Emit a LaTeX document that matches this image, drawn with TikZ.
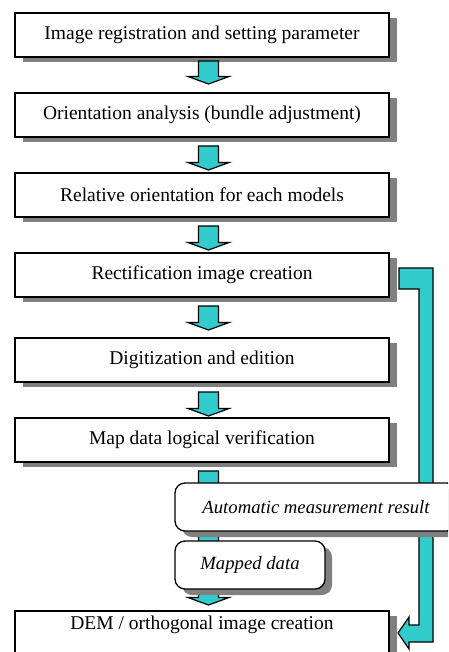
\documentclass[tikz,border=0pt]{standalone}
\usepackage{fontspec}
\setmainfont{Liberation Serif}
\usetikzlibrary{calc,shadows}
\definecolor{flowcyan}{RGB}{51,204,204}
\definecolor{shadowgray}{RGB}{128,128,128}
\newcommand\blockarrow[2]{\draw[blockarr] let \p1=(#1), \p2=(#2) in
  (\x1-10pt,\y1) -- (\x1+10pt,\y1) -- (\x1+10pt,\y2+7.5pt) -- (\x1+20.5pt,\y2+7.5pt) -- (\p2)
  -- (\x1-20.5pt,\y2+7.5pt) -- (\x1-10pt,\y2+7.5pt) -- cycle;}
\begin{document}
\begin{tikzpicture}[x=1pt,y=-1pt,
  stepbox/.style={draw=black, line width=1.3pt, fill=white, outer sep=0pt, inner sep=0pt,
    minimum width=374pt, minimum height=44pt, font=\fontsize{19.5}{22}\selectfont,
    general shadow={fill=shadowgray, shadow xshift=8pt, shadow yshift=-5pt}},
  databox/.style={draw=black, line width=1.3pt, fill=white, rounded corners=10pt, outer sep=0pt,
    inner sep=0pt, minimum height=48pt, font=\fontsize{18.7}{22}\selectfont\itshape,
    general shadow={fill=shadowgray, shadow xshift=7pt, shadow yshift=-6pt}},
  blockarr/.style={draw=black, line width=1.2pt, fill=flowcyan, line join=miter}]
\useasboundingbox (0,0) rectangle (448,652);
\clip (0,0) rectangle (448,652);

\node[stepbox] (b1) at (202,35) {Image registration and setting parameter};
\node[stepbox] (b2) at (202,115) {Orientation analysis (bundle adjustment)};
\node[stepbox] (b3) at (202,195) {Relative orientation for each models};
\node[stepbox] (b4) at (202,275) {Rectification image creation};
\node[stepbox] (b5) at (202,360) {Digitization and edition};
\node[stepbox] (b6) at (202,440) {Map data logical verification};
\node[stepbox, anchor=north, text height=18pt, text depth=26pt] (dem) at (202,611) {DEM / orthogonal image creation};

\coordinate (t1) at ($(b1.south)+(6.5,4)$);  \coordinate (h1) at ($(b2.north)+(6.5,-9)$);
\coordinate (t2) at ($(b2.south)+(6.5,9)$);  \coordinate (h2) at ($(b3.north)+(6.5,-3)$);
\coordinate (t3) at ($(b3.south)+(6.5,9)$);  \coordinate (h3) at ($(b4.north)+(6.5,-3)$);
\coordinate (t4) at ($(b4.south)+(6.5,9)$);  \coordinate (h4) at ($(b5.north)+(6.5,-8)$);
\coordinate (t5) at ($(b5.south)+(6.5,10)$); \coordinate (h5) at ($(b6.north)+(6.5,-2)$);
\coordinate (t6) at ($(b6.south)+(6.5,9)$);  \coordinate (h6) at ($(dem.north)+(6.5,-6)$);
\blockarrow{t1}{h1}
\blockarrow{t2}{h2}
\blockarrow{t3}{h3}
\blockarrow{t4}{h4}
\blockarrow{t5}{h5}
\blockarrow{t6}{h6}

% return connector from rectification to DEM
\coordinate (ls) at ($(b4.east)+(10,0)$);
\coordinate (lt) at ($(dem.east)+(9,0)$);
\draw[blockarr] let \p1=(ls), \p2=(lt) in
  (\x1,\y1+7pt) -- (\x1+34pt,\y1+7pt) -- (\x1+34pt,\y2-9pt) -- (\x2+11pt,\y2-9pt)
  -- (\x2+11pt,\y2-16pt) -- (\p2) -- (\x2+11pt,\y2+16pt) -- (\x2+11pt,\y2+8pt)
  -- (\x1+20pt,\y2+8pt) -- (\x1+20pt,\y1-14pt) -- (\x1,\y1-14pt) -- cycle;

\node[databox, minimum width=282pt] (auto) at (316,507) {Automatic measurement result};
\node[databox, minimum width=150pt] (mapped) at (250,565) {Mapped data};
\end{tikzpicture}
\end{document}
